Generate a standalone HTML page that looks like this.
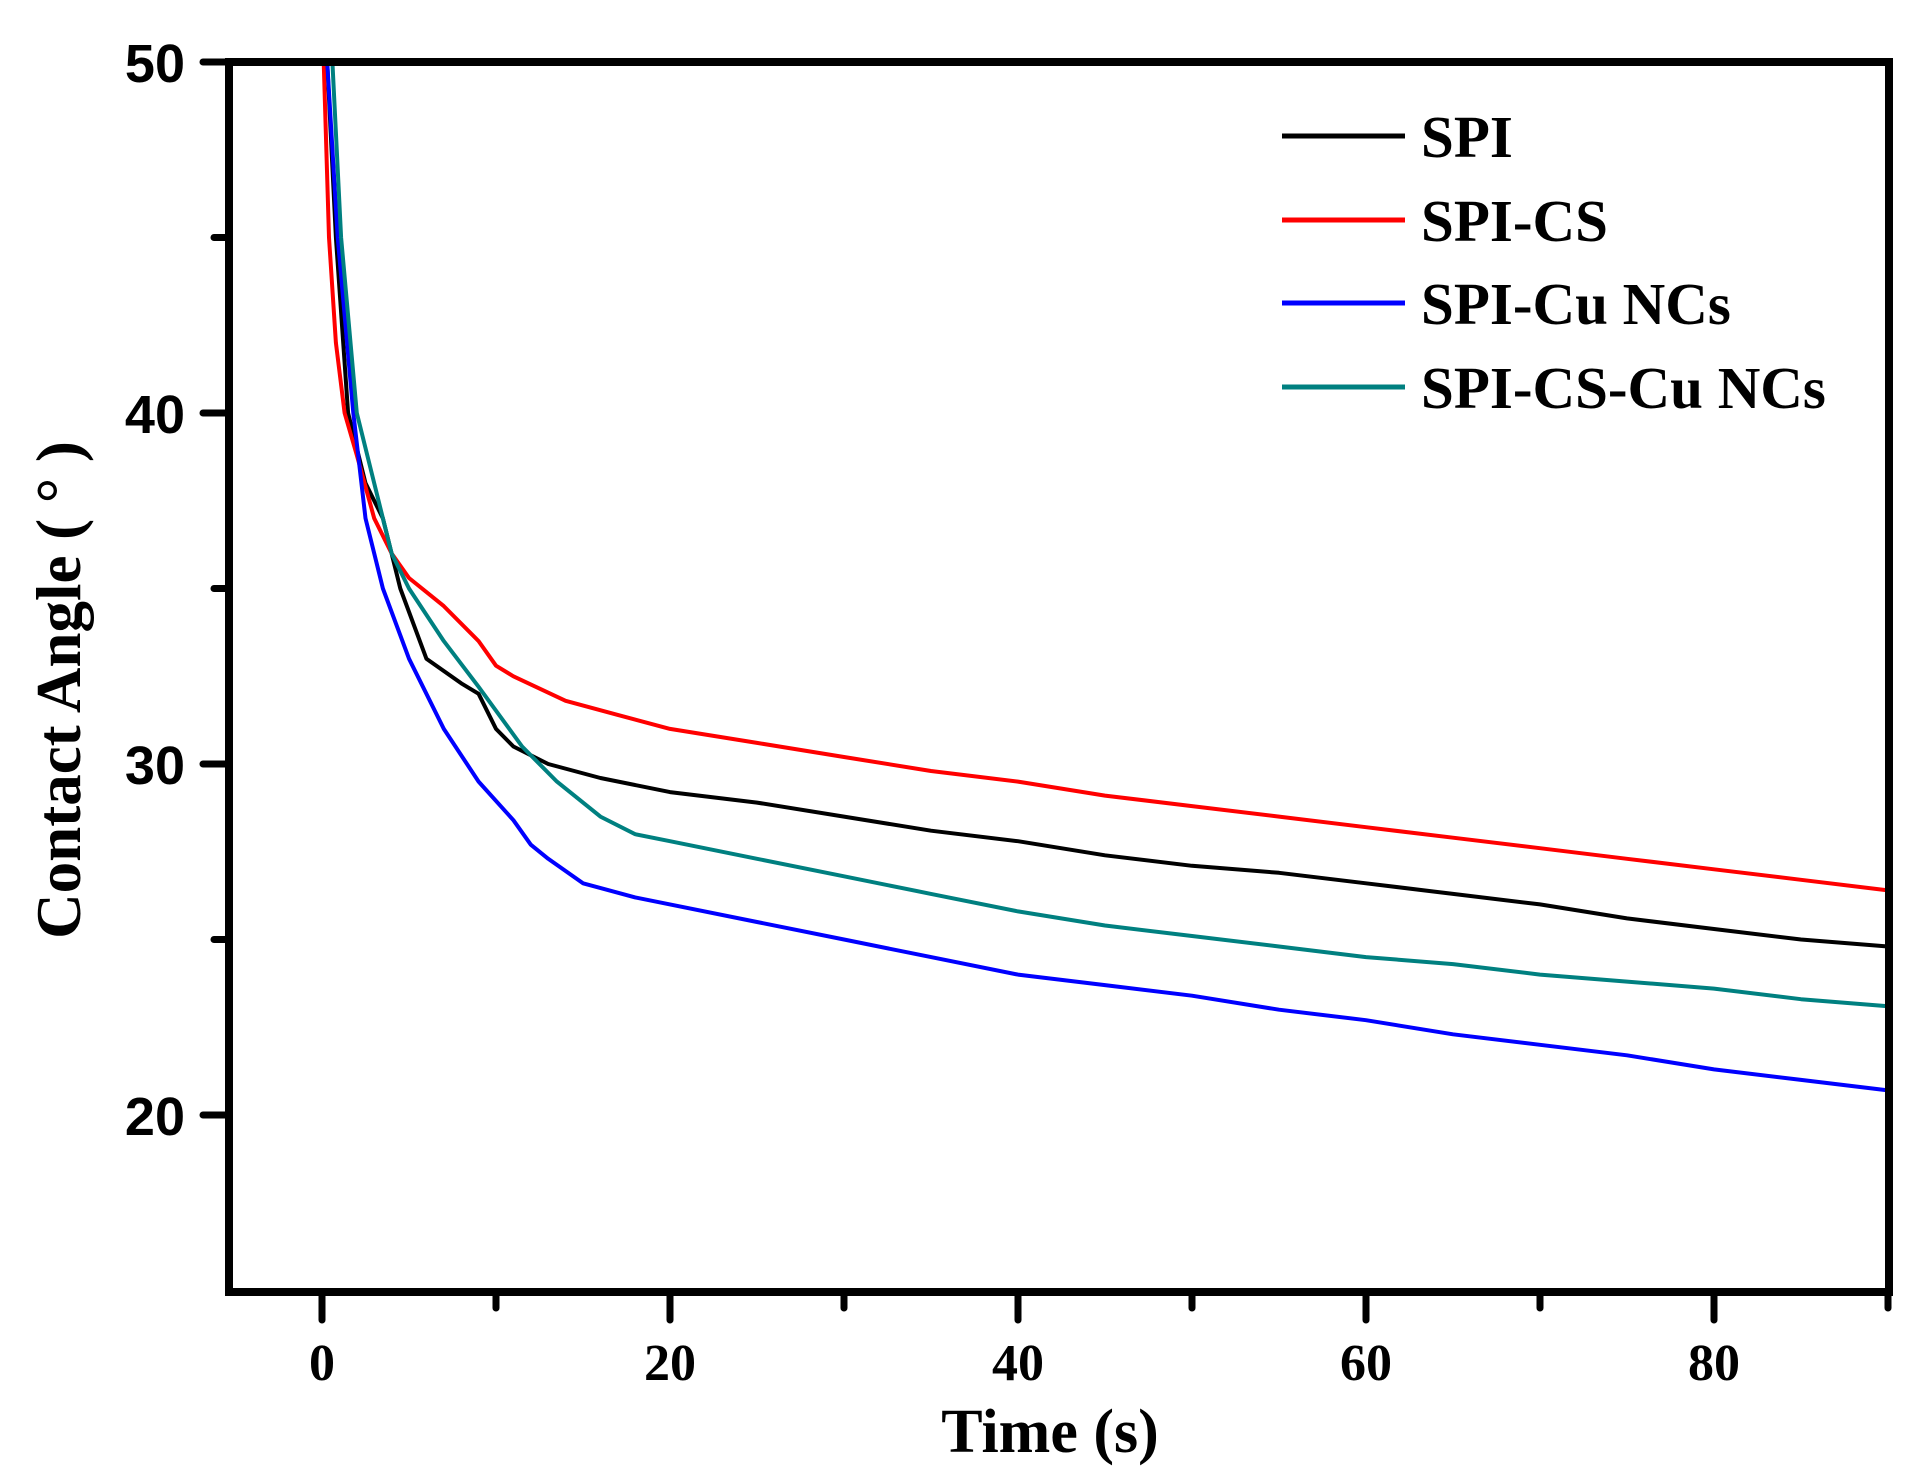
<!DOCTYPE html>
<html><head><meta charset="utf-8"><style>
html,body{margin:0;padding:0;background:#fff;}
svg{display:block;}
</style></head><body>
<svg id="s" width="1928" height="1480" xmlns="http://www.w3.org/2000/svg">
<rect width="1928" height="1480" fill="#fff"/>
<g id="curves" fill="none" stroke-width="4" stroke-linejoin="round"></g>
<g stroke="#000" stroke-width="8" stroke-linecap="round" fill="none">
<rect x="229" y="62" width="1660" height="1230" stroke-linecap="square"/>
</g>
<g id="ticks" stroke="#000" stroke-width="7" stroke-linecap="round"></g>
<g font-family="Liberation Sans, Arial, sans-serif" font-weight="bold" font-size="54" text-anchor="end">
<text x="185" y="82">50</text>
<text x="185" y="433">40</text>
<text x="185" y="784">30</text>
<text x="185" y="1135">20</text>
</g>
<g font-family="Liberation Serif, serif" font-weight="bold" font-size="52" text-anchor="middle">
<text x="322" y="1380">0</text>
<text x="670" y="1380">20</text>
<text x="1018" y="1380">40</text>
<text x="1366" y="1380">60</text>
<text x="1714" y="1380">80</text>
<text x="1050" y="1452" font-size="62">Time (s)</text>
<text transform="translate(80,690) rotate(-90)" font-size="63">Contact Angle ( ° )</text>
</g>
<g stroke-width="5">
<line x1="1282" y1="136" x2="1405" y2="136" stroke="#000"/>
<line x1="1282" y1="220" x2="1405" y2="220" stroke="#ff0000"/>
<line x1="1282" y1="303" x2="1405" y2="303" stroke="#0000ff"/>
<line x1="1282" y1="387" x2="1405" y2="387" stroke="#008080"/>
</g>
<g font-family="Liberation Serif, serif" font-weight="bold" font-size="59">
<text x="1421" y="157">SPI</text>
<text x="1421" y="241">SPI-CS</text>
<text x="1421" y="324">SPI-Cu NCs</text>
<text x="1421" y="408">SPI-CS-Cu NCs</text>
</g>
</svg>
<script>
var X=function(x){return 322+17.4*x}, Y=function(y){return 62+35.1*(50-y)};
var ns="http://www.w3.org/2000/svg";
var data={
"#000000":[[0.3,50],[0.8,45],[1.5,40],[2.5,38],[3.5,37],[4.5,35],[6,33],[8,32.3],[9,32],[10,31],[11,30.5],[13,30],[16,29.6],[20,29.2],[25,28.9],[30,28.5],[35,28.1],[40,27.8],[45,27.4],[50,27.1],[55,26.9],[60,26.6],[65,26.3],[70,26],[75,25.6],[80,25.3],[85,25],[90,24.8]],
"#ff0000":[[0.1,50],[0.4,45],[0.8,42],[1.3,40],[2,38.8],[3,37],[4,36],[5,35.3],[7,34.5],[9,33.5],[10,32.8],[11,32.5],[14,31.8],[17,31.4],[20,31],[25,30.6],[30,30.2],[35,29.8],[40,29.5],[45,29.1],[50,28.8],[55,28.5],[60,28.2],[65,27.9],[70,27.6],[75,27.3],[80,27],[85,26.7],[90,26.4]],
"#0000ff":[[0.3,50],[0.9,45],[1.8,40],[2.5,37],[3.5,35],[5,33],[7,31],[9,29.5],[11,28.4],[12,27.7],[13,27.3],[15,26.6],[18,26.2],[20,26],[25,25.5],[30,25],[35,24.5],[40,24],[45,23.7],[50,23.4],[55,23],[60,22.7],[65,22.3],[70,22],[75,21.7],[80,21.3],[85,21],[90,20.7]],
"#008080":[[0.6,50],[1.1,45],[2,40],[3,38],[4,36],[5,35],[7,33.5],[9,32.2],[11.5,30.5],[13.5,29.5],[16,28.5],[18,28],[20,27.8],[25,27.3],[30,26.8],[35,26.3],[40,25.8],[45,25.4],[50,25.1],[55,24.8],[60,24.5],[65,24.3],[70,24],[75,23.8],[80,23.6],[85,23.3],[90,23.1]]};
var g=document.getElementById("curves");
for(var c in data){var p=document.createElementNS(ns,"polyline");
p.setAttribute("points",data[c].map(function(d){return X(d[0]).toFixed(1)+","+Y(d[1]).toFixed(1)}).join(" "));
p.setAttribute("stroke",c);g.appendChild(p);}
var t=document.getElementById("ticks");
function L(a,b,c,d){var l=document.createElementNS(ns,"line");l.setAttribute("x1",a);l.setAttribute("y1",b);l.setAttribute("x2",c);l.setAttribute("y2",d);t.appendChild(l);}
for(var v=20;v<=50;v+=5){var y=Y(v);L(v%10==0?203:214,y,229,y);}
for(var v=0;v<=90;v+=10){var x=X(v);L(x,1292,x,v%20==0?1320:1308);}
</script>
</body></html>
